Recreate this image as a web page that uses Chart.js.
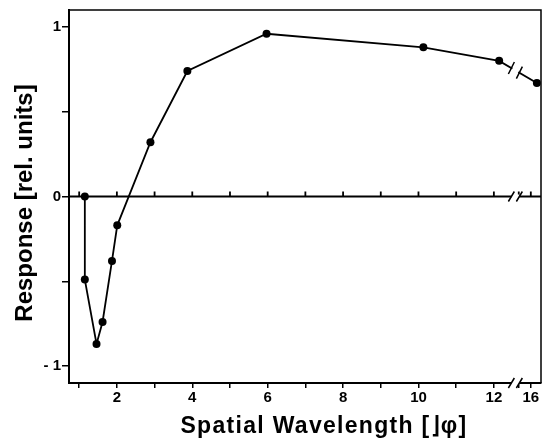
<!DOCTYPE html>
<html>
<head>
<meta charset="utf-8">
<script src="https://cdn.jsdelivr.net/npm/chart.js@4"></script>
<style>
  html, body { margin: 0; padding: 0; background: #fff; }
  #wrap { width: 547px; height: 441px; }
</style>
</head>
<body>
<div id="wrap"><canvas id="chart"></canvas></div>
<script>
// values
const wavelengths = [1.15, 1.15, 1.46, 1.62, 1.87, 2.01, 2.89, 3.87, 5.97, 10.13, 12.14, 16.5];
const responses = [0, -0.49, -0.87, -0.74, -0.38, -0.17, 0.32, 0.74, 0.96, 0.88, 0.80, 0.67];

const xTickValues = [1, 2, 3, 4, 5, 6, 7, 8, 9, 10, 11, 12, 15, 16];
const xTickLabels = ["", "2", "", "4", "", "6", "", "8", "", "10", "", "12", "", "16"];
const yTickValues = [-1, -0.5, 0, 0.5, 1];
const yTickLabels = ["- 1", "", "0", "", "1"];

// broken axis: above 12.6 the scale is compressed
const BREAK_AT = 12.6;
function axisPos(w) {
    return w <= BREAK_AT ? w : 12.98 + (w - 16) * 0.32;
}

const FONT = "Liberation Sans";

const extras = {
    id: "extras",
    afterDraw(chart) {
        const ctx = chart.ctx;
        const xs = chart.scales.x;
        const ys = chart.scales.y;
        const area = chart.chartArea;
        const y0 = ys.getPixelForValue(0);
        const bx = xs.getPixelForValue(12.57);

        ctx.save();
        ctx.strokeStyle = "#000";
        ctx.lineWidth = 1.5;

        // top and right frame
        ctx.beginPath();
        ctx.moveTo(area.left, area.top);
        ctx.lineTo(area.right, area.top);
        ctx.lineTo(area.right, area.bottom);
        ctx.stroke();

        // zero line with upward ticks
        ctx.lineWidth = 1.8;
        ctx.beginPath();
        ctx.moveTo(area.left, y0);
        ctx.lineTo(area.right, y0);
        xTickValues.forEach((v) => {
            const px = xs.getPixelForValue(axisPos(v));
            ctx.moveTo(px, y0);
            ctx.lineTo(px, y0 - 5);
        });
        ctx.stroke();

        // break marks on zero line and bottom axis
        function axisBreak(y) {
            ctx.fillStyle = "#fff";
            ctx.fillRect(bx - 4, y - 2, 8, 4);
            ctx.beginPath();
            ctx.lineWidth = 1.5;
            ctx.moveTo(bx - 7, y + 5);
            ctx.lineTo(bx - 1, y - 5);
            ctx.moveTo(bx + 1, y + 5);
            ctx.lineTo(bx + 7, y - 5);
            ctx.stroke();
        }
        axisBreak(y0);
        axisBreak(area.bottom);

        // break on the data line
        const p1 = { x: xs.getPixelForValue(axisPos(12.14)), y: ys.getPixelForValue(0.80) };
        const p2 = { x: xs.getPixelForValue(axisPos(16.5)), y: ys.getPixelForValue(0.67) };
        const slope = (p2.y - p1.y) / (p2.x - p1.x);
        const g1 = bx - 4, g2 = bx + 4;
        const gy1 = p1.y + slope * (g1 - p1.x);
        const gy2 = p1.y + slope * (g2 - p1.x);
        ctx.strokeStyle = "#fff";
        ctx.lineWidth = 5;
        ctx.beginPath();
        ctx.moveTo(g1 + 1, gy1 + slope);
        ctx.lineTo(g2 - 1, gy2 - slope);
        ctx.stroke();
        ctx.strokeStyle = "#000";
        ctx.lineWidth = 1.5;
        ctx.beginPath();
        ctx.moveTo(g1 - 3, gy1 + 6);
        ctx.lineTo(g1 + 3, gy1 - 6);
        ctx.moveTo(g2 - 3, gy2 + 6);
        ctx.lineTo(g2 + 3, gy2 - 6);
        ctx.stroke();

        // axis titles
        ctx.fillStyle = "#000";
        ctx.textAlign = "center";
        ctx.textBaseline = "alphabetic";
        ctx.font = "bold 23px " + FONT;
        ctx.letterSpacing = "1.3px";
        ctx.fillText("Spatial Wavelength [\u230B\u03C6]", 324, 433);

        ctx.letterSpacing = "0px";
        ctx.font = "bold 24px " + FONT;
        ctx.translate(32, 203);
        ctx.rotate(-Math.PI / 2);
        ctx.fillText("Response [rel. units]", 0, 0);
        ctx.restore();
    },
};

new Chart(document.getElementById("chart"), {
    type: "line",
    data: {
        datasets: [
            {
                data: wavelengths.map((w, i) => ({ x: axisPos(w), y: responses[i] })),
                borderColor: "#000",
                backgroundColor: "#000",
                borderWidth: 1.8,
                pointRadius: 4,
                pointBorderWidth: 0,
                tension: 0,
            },
        ],
    },
    options: {
        responsive: true,
        maintainAspectRatio: false,
        animation: false,
        layout: { padding: { top: 8, right: 6, left: 0, bottom: 0 } },
        plugins: {
            legend: { display: false },
            tooltip: { enabled: false },
        },
        scales: {
            x: {
                type: "linear",
                min: 0.73,
                max: 13.25,
                afterBuildTicks: (scale) => {
                    scale.ticks = xTickValues.map((v) => ({ value: axisPos(v) }));
                },
                afterFit: (scale) => {
                    scale.height = 58;
                },
                border: { display: true, color: "#000", width: 2 },
                grid: {
                    display: true,
                    drawOnChartArea: false,
                    drawTicks: true,
                    tickLength: 5,
                    color: "#000",
                    lineWidth: 1.5,
                },
                ticks: {
                    autoSkip: false,
                    maxRotation: 0,
                    padding: 1,
                    color: "#000",
                    font: { family: FONT, size: 15, weight: "bold" },
                    callback: (value, index) => xTickLabels[index],
                },
            },
            y: {
                type: "linear",
                min: -1.1,
                max: 1.1,
                afterBuildTicks: (scale) => {
                    scale.ticks = yTickValues.map((v) => ({ value: v }));
                },
                afterFit: (scale) => {
                    scale.width = 69;
                },
                border: { display: true, color: "#000", width: 2 },
                grid: {
                    display: true,
                    drawOnChartArea: false,
                    drawTicks: true,
                    tickLength: 7,
                    color: "#000",
                    lineWidth: 1.5,
                },
                ticks: {
                    padding: 1,
                    color: "#000",
                    font: { family: FONT, size: 15, weight: "bold" },
                    callback: (value, index) => yTickLabels[index],
                },
            },
        },
    },
    plugins: [extras],
});
</script>
</body>
</html>
